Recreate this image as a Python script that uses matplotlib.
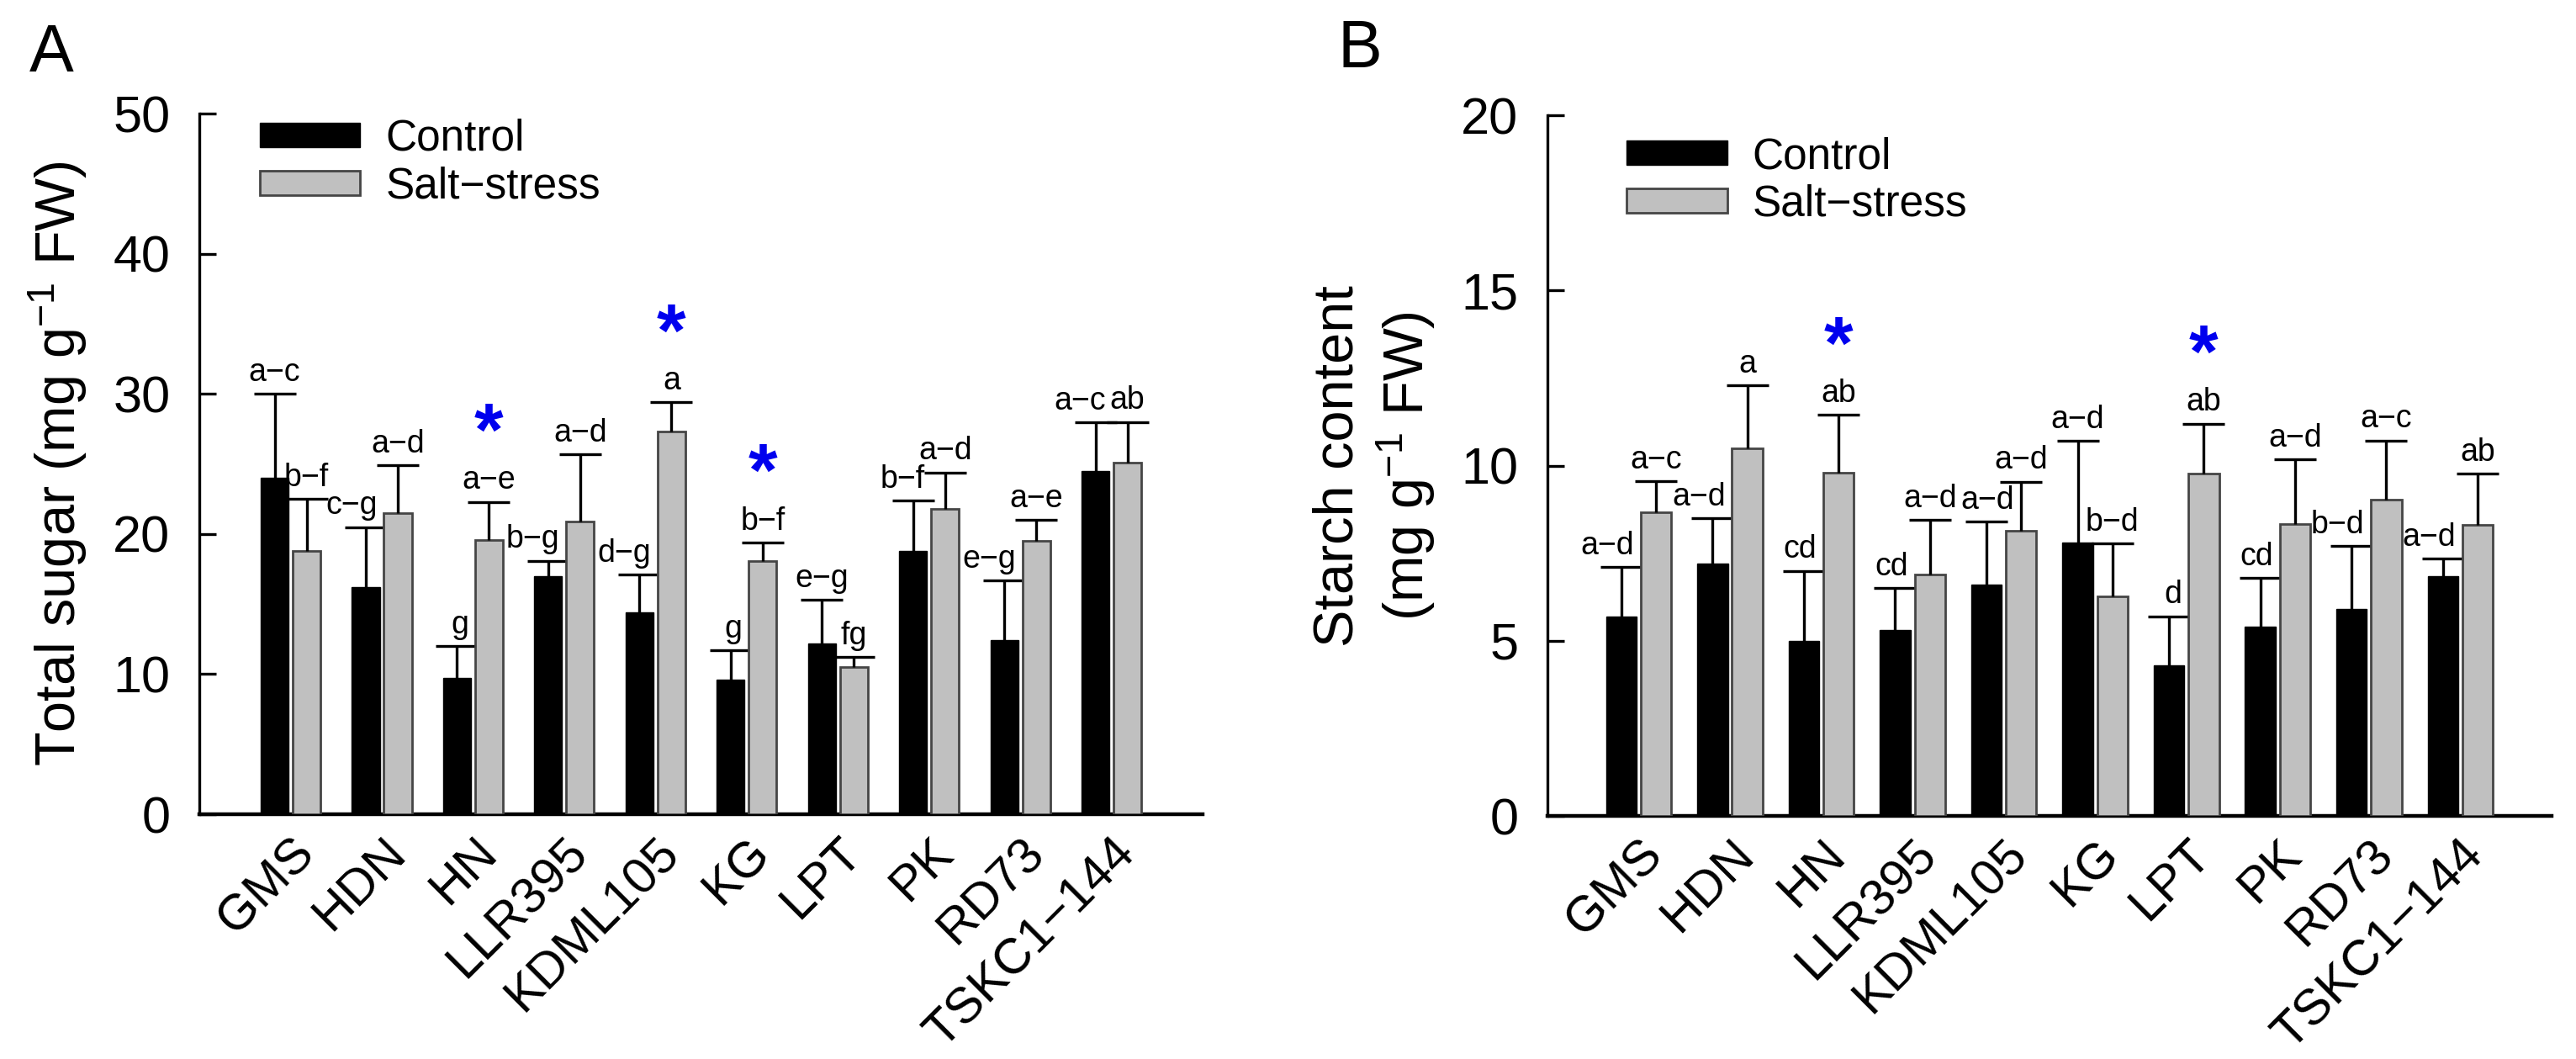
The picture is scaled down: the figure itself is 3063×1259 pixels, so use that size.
import numpy as np
import matplotlib
matplotlib.use('Agg')
import matplotlib.pyplot as plt
from matplotlib.transforms import ScaledTranslation

plt.rcParams['font.family'] = ['Liberation Sans', 'DejaVu Sans']
plt.rcParams['mathtext.fontset'] = 'custom'
plt.rcParams['mathtext.rm'] = 'Liberation Sans'
plt.rcParams['mathtext.it'] = 'Liberation Sans:italic'
plt.rcParams['mathtext.bf'] = 'Liberation Sans:bold'

M = '\u2212'

# ---------------- data ----------------
cultivars = ['GMS', 'HDN', 'HN', 'LLR395', 'KDML105', 'KG', 'LPT', 'PK', 'RD73', 'TSKC1' + M + '144']

sugar_control = [24.0, 16.2, 9.7, 17.0, 14.4, 9.6, 12.2, 18.8, 12.4, 24.5]
sugar_control_err = [6.0, 4.3, 2.3, 1.1, 2.7, 2.1, 3.1, 3.6, 4.3, 3.45]
sugar_salt = [18.8, 21.5, 19.6, 20.9, 27.3, 18.1, 10.5, 21.8, 19.5, 25.1]
sugar_salt_err = [3.7, 3.4, 2.7, 4.8, 2.1, 1.3, 0.7, 2.6, 1.5, 2.9]
sugar_control_letters = ['a' + M + 'c', 'c' + M + 'g', 'g', 'b' + M + 'g', 'd' + M + 'g',
                         'g', 'e' + M + 'g', 'b' + M + 'f', 'e' + M + 'g', 'a' + M + 'c']
sugar_salt_letters = ['b' + M + 'f', 'a' + M + 'd', 'a' + M + 'e', 'a' + M + 'd', 'a',
                      'b' + M + 'f', 'fg', 'a' + M + 'd', 'a' + M + 'e', 'ab']
sugar_star = [False, False, True, False, True, True, False, False, False, False]

starch_control = [5.7, 7.2, 5.0, 5.3, 6.6, 7.8, 4.3, 5.4, 5.9, 6.85]
starch_control_err = [1.4, 1.3, 2.0, 1.2, 1.8, 2.9, 1.4, 1.4, 1.8, 0.5]
starch_salt = [8.66, 10.5, 9.8, 6.9, 8.14, 6.28, 9.77, 8.33, 9.02, 8.32]
starch_salt_err = [0.9, 1.8, 1.65, 1.55, 1.4, 1.5, 1.43, 1.85, 1.7, 1.45]
starch_control_letters = ['a' + M + 'd', 'a' + M + 'd', 'cd', 'cd', 'a' + M + 'd',
                          'a' + M + 'd', 'd', 'cd', 'b' + M + 'd', 'a' + M + 'd']
starch_salt_letters = ['a' + M + 'c', 'a', 'ab', 'a' + M + 'd', 'a' + M + 'd',
                       'b' + M + 'd', 'ab', 'a' + M + 'd', 'a' + M + 'c', 'ab']
starch_star = [False, False, True, False, False, False, True, False, False, False]

legend_labels = ['Control', 'Salt' + M + 'stress']
sugar_ticks = [0, 10, 20, 30, 40, 50]
starch_ticks = [0, 5, 10, 15, 20]

# ---------------- style ----------------
CTRL_COLOR = 'black'
SALT_COLOR = '#c0c0c0'
SALT_EDGE = '#454545'
LW = 2.4
DPI = 100


def upper_errorbar(ax, x, y, err, z):
    y = np.asarray(y, float)
    eb = ax.errorbar(x, y, yerr=[np.zeros(len(y)), np.asarray(err, float)], fmt='none',
                     ecolor='black', elinewidth=LW, capsize=18, capthick=LW, zorder=z)
    for cl in eb.lines[1]:
        if np.allclose(cl.get_ydata(), y):
            cl.remove()


def panel(ax, ctrl, ctrl_err, salt, salt_err, ctrl_lbl, salt_lbl, stars,
          ticks, ylabel, width, off, leg_anchor, ylabel_x):
    n = len(cultivars)
    x = np.arange(n)
    xc, xs = x - off, x + off
    ax.bar(xc, ctrl, width, color=CTRL_COLOR, edgecolor='black', linewidth=1,
           zorder=2, label=legend_labels[0])
    upper_errorbar(ax, xc, ctrl, ctrl_err, 2.1)
    ax.bar(xs, salt, width, color=SALT_COLOR, edgecolor=SALT_EDGE, linewidth=2,
           zorder=3, label=legend_labels[1])
    upper_errorbar(ax, xs, salt, salt_err, 3.1)

    ctrl_top = np.asarray(ctrl) + np.asarray(ctrl_err)
    salt_top = np.asarray(salt) + np.asarray(salt_err)
    ctrl_ann, salt_ann = [], []
    for xi, ct, st, t in zip(xc, ctrl_top, salt_top, ctrl_lbl):
        if st >= ct:
            a = ax.annotate(t, (xi + width / 2, ct), xytext=(-2, 11), textcoords='offset points',
                            ha='right', va='baseline', fontsize=27, zorder=5)
        else:
            a = ax.annotate(t, (xi, ct), xytext=(0, 11), textcoords='offset points',
                            ha='center', va='baseline', fontsize=27, zorder=5)
        ctrl_ann.append(a)
    for xi, st, t in zip(xs, salt_top, salt_lbl):
        salt_ann.append(ax.annotate(t, (xi, st), xytext=(0, 11), textcoords='offset points',
                                    ha='center', va='baseline', fontsize=27, zorder=5))
    for xi, st, s in zip(xs, salt_top, stars):
        if s:
            ax.annotate('*', (xi, st), xytext=(0, 40), textcoords='offset points',
                        ha='center', va='baseline', fontsize=64, fontweight='bold',
                        color='#0000ee', zorder=5)

    ax.set_xlim(-1.0, n)
    ax.set_ylim(ticks[0], ticks[-1])
    ax.set_yticks(ticks)
    ax.set_xticks(x)
    ax.set_xticklabels(cultivars, rotation=45, ha='right', va='top', rotation_mode='anchor')
    off_tr = ScaledTranslation(0.10, 0, ax.figure.dpi_scale_trans)
    for lab in ax.get_xticklabels():
        lab.set_transform(lab.get_transform() + off_tr)

    for s in ['top', 'right']:
        ax.spines[s].set_visible(False)
    ax.spines['left'].set_linewidth(LW)
    ax.spines['bottom'].set_linewidth(3.2)
    ax.tick_params(axis='y', direction='in', length=14.4, width=LW, labelsize=44, pad=25)
    ax.tick_params(axis='x', length=0, labelsize=43, pad=13)

    ax.set_ylabel(ylabel, fontsize=48)
    ax.yaxis.set_label_coords(ylabel_x, 0.5)

    ax.legend(loc='upper left', bbox_to_anchor=leg_anchor, frameon=False, fontsize=37,
              handlelength=2.33, handleheight=0.49, handletextpad=0.58,
              labelspacing=0.15, borderpad=0, borderaxespad=0)
    return ctrl_ann, salt_ann


def declutter(fig, ctrl_ann, salt_ann):
    """Nudge control-bar letters sideways where they would run into neighbouring letters."""
    r = fig.canvas.get_renderer()
    gap = 5.0
    for i, a in enumerate(ctrl_ann):
        ba = a.get_window_extent(r)
        # same group salt letters (to the right)
        bs = salt_ann[i].get_window_extent(r)
        if abs(ba.y0 - bs.y0) < 0.6 * ba.height and ba.x1 + gap > bs.x0:
            d = ba.x1 + gap - bs.x0
            a.xyann = (a.xyann[0] - d * 72 / DPI, a.xyann[1])
            ba = a.get_window_extent(r)
        # previous group salt letters (to the left)
        if i > 0:
            bp = salt_ann[i - 1].get_window_extent(r)
            if abs(ba.y0 - bp.y0) < 0.6 * ba.height and bp.x1 + gap > ba.x0:
                d = bp.x1 + gap - ba.x0
                a.xyann = (a.xyann[0] + d * 72 / DPI, a.xyann[1])


fig = plt.figure(figsize=(30.63, 12.59), dpi=DPI)
axA = fig.add_axes([0.0774, 0.2311, 0.3895, 0.6616])
axB = fig.add_axes([0.6007, 0.2295, 0.3898, 0.6616])

annA = panel(axA, sugar_control, sugar_control_err, sugar_salt, sugar_salt_err,
             sugar_control_letters, sugar_salt_letters, sugar_star, sugar_ticks,
             'Total sugar (mg g$^{-1}$ FW)', 0.305, 0.175, (0.06, 0.993), -0.11)
annB = panel(axB, starch_control, starch_control_err, starch_salt, starch_salt_err,
             starch_control_letters, starch_salt_letters, starch_star, starch_ticks,
             'Starch content\n(mg g$^{-1}$ FW)', 0.335, 0.19, (0.079, 0.97), -0.11)

fig.text(35 / 3063, 1 - 85 / 1259, 'A', fontsize=57, ha='left', va='baseline')
fig.text(1591 / 3063, 1 - 80 / 1259, 'B', fontsize=57, ha='left', va='baseline')

fig.canvas.draw()
declutter(fig, *annA)
declutter(fig, *annB)

fig.savefig('out.png', dpi=DPI)
